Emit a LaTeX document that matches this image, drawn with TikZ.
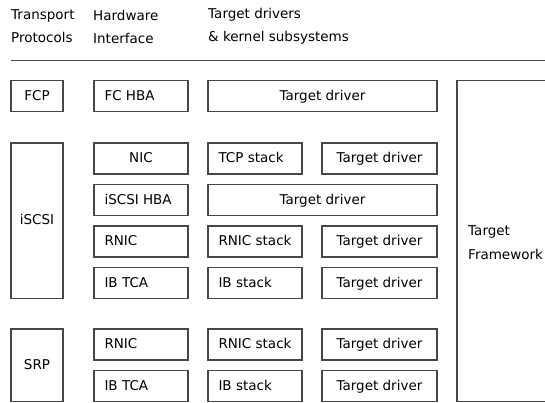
\documentclass[tikz,border=0pt]{standalone}
\usepackage{fontspec}
\setmainfont{DejaVu Sans}
\newcommand{\lft}[1]{\makebox[73pt][l]{#1}}
\begin{document}
\begin{tikzpicture}[x=1pt,y=-1pt,
  every node/.style={font=\fontsize{13.5}{23}\selectfont, text=black},
  boxc/.style={draw=black!72, line width=1.1pt, inner sep=0pt, minimum height=31pt, align=center, text height=9.8pt, text depth=1.4pt},
  boxl/.style={draw=black!72, line width=1.1pt, inner ysep=0pt, inner xsep=10.5pt, minimum height=31pt, minimum width=94pt, text height=9.8pt, text depth=1.4pt},
  hdr/.style={anchor=west, inner sep=0pt, align=left, font=\fontsize{13.5}{23}\selectfont}]
\useasboundingbox (0,0) rectangle (545,403);
% header
\node[hdr] (h1) at (11,26.5) {Transport\\Protocols};
\node[hdr] (h2) at (93,26.5) {Hardware\\Interface};
\node[hdr] (h3) at (208,26.5) {Target drivers\\\& kernel subsystems};
\coordinate (hl) at (11,60.5);
\coordinate (hr) at (545,60.5);
\draw[draw=black!72, line width=1.1pt] (hl) -- (hr);
% column 1
\node[boxc, minimum width=52pt] (fcp) at (37,96) {FCP};
\node[boxc, minimum width=52pt, minimum height=155.5pt] (iscsi) at (37,220.75) {iSCSI};
\node[boxc, minimum width=52pt, minimum height=72.5pt] (srp) at (37,365.25) {SRP};
% row 0
\node[boxl] (fchba) at (141,96) {\lft{FC HBA}};
\node[boxc, minimum width=229pt] (td0) at (322.5,96) {Target driver};
% row 1
\node[boxc, minimum width=94pt] (nic) at (141,158.5) {NIC};
\node[boxl] (tcp) at (255,158.5) {\lft{TCP stack}};
\node[boxc, minimum width=115pt] (td1) at (379.5,158.5) {Target driver};
% row 2
\node[boxl] (ihba) at (141,200) {\lft{iSCSI HBA}};
\node[boxc, minimum width=229pt] (td2) at (322.5,200) {Target driver};
% row 3
\node[boxl] (rnic1) at (141,241.5) {\lft{RNIC}};
\node[boxl] (rs1) at (255,241.5) {\lft{RNIC stack}};
\node[boxc, minimum width=115pt] (td3) at (379.5,241.5) {Target driver};
% row 4
\node[boxl] (ib1) at (141,283) {\lft{IB TCA}};
\node[boxl] (is1) at (255,283) {\lft{IB stack}};
\node[boxc, minimum width=115pt] (td4) at (379.5,283) {Target driver};
% row 5
\node[boxl] (rnic2) at (141,344.5) {\lft{RNIC}};
\node[boxl] (rs2) at (255,344.5) {\lft{RNIC stack}};
\node[boxc, minimum width=115pt] (td5) at (379.5,344.5) {Target driver};
% row 6
\node[boxl] (ib2) at (141,386) {\lft{IB TCA}};
\node[boxl] (is2) at (255,386) {\lft{IB stack}};
\node[boxc, minimum width=115pt] (td6) at (379.5,386) {Target driver};
% framework
\node[draw=black!72, line width=1.1pt, minimum width=110pt, minimum height=321pt, inner sep=0pt] (fw) at (512,241) {};
\node[hdr, font=\fontsize{13.5}{24}\selectfont] (fwt) at (468,243) {Target\\Framework};
\end{tikzpicture}
\end{document}
